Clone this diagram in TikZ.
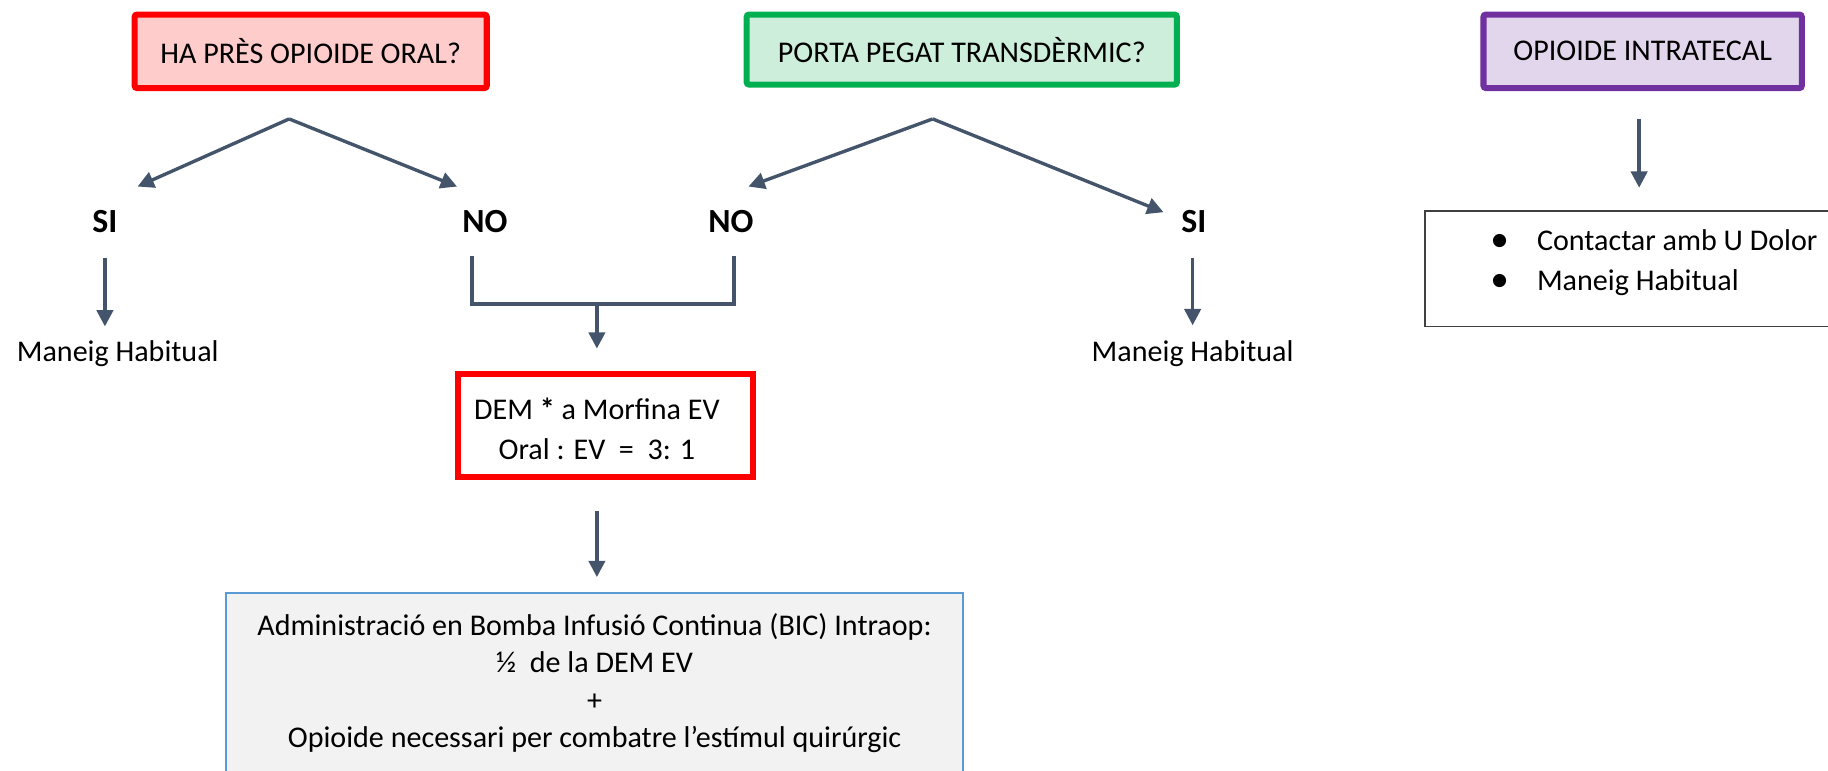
\documentclass[tikz,border=0pt]{standalone}
\usepackage{fontspec}
\setmainfont{Carlito}
\usetikzlibrary{arrows.meta}
\definecolor{qred}{HTML}{FF0000}
\definecolor{qredfill}{HTML}{FFCCCC}
\definecolor{qgreen}{HTML}{00B050}
\definecolor{qgreenfill}{HTML}{CCEEDA}
\definecolor{qpurple}{HTML}{7030A0}
\definecolor{qpurplefill}{HTML}{E2D6EC}
\definecolor{flow}{HTML}{44546A}
\definecolor{infofill}{HTML}{F2F2F2}
\definecolor{infoblue}{HTML}{5B9BD5}
\definecolor{listframe}{HTML}{404040}
\newcommand{\itemdot}{\makebox[20pt][l]{\raisebox{-0.5pt}{\fontsize{16}{16}\selectfont •}}}
\begin{document}
\begin{tikzpicture}[x=0.5pt,y=-0.5pt,
  font=\fontsize{12.9}{17}\selectfont,
  qbox/.style={line width=2.6pt, inner sep=0pt, rounded corners=1pt},
  lab/.style={font=\bfseries\fontsize{14.5}{16}\selectfont, inner sep=0pt},
  conn/.style={draw=flow, line width=1.45pt, -{Triangle[length=7pt,width=7pt]}},
  bar/.style={draw=flow, line width=1.7pt}]
\useasboundingbox (0,0) rectangle (1568,661);

% question boxes
\node[qbox, draw=qred, fill=qredfill, minimum width=151pt, minimum height=31.5pt] (oral) at (266.5,44) {HA PRÈS OPIOIDE ORAL?};
\node[qbox, draw=qgreen, fill=qgreenfill, minimum width=184.5pt, minimum height=30pt] (pegat) at (825,42.5) {PORTA PEGAT TRANSDÈRMIC?};
\node[qbox, draw=qpurple, fill=qpurplefill, minimum width=136.5pt, minimum height=31.5pt] (intra) at (1409,44) {OPIOIDE INTRATECAL};

% answer labels
\node[lab] (si1) at (90,190) {SI};
\node[lab] (no1) at (416,190) {NO};
\node[lab] (no2) at (627,190) {NO};
\node[lab] (si2) at (1024,190) {SI};

% branch points
\coordinate (v1) at (248,102);
\coordinate (v1l) at (118,160);
\coordinate (v1r) at (392,160);
\coordinate (v2) at (800,102);
\coordinate (v2l) at (642,160);
\coordinate (v2r) at (998,182);

\draw[conn] (v1) -- (v1l);
\draw[conn] (v1) -- (v1r);
\draw[conn] (v2) -- (v2l);
\draw[conn] (v2) -- (v2r);

% outcomes of SI
\node (hab1) at (101,303) {Maneig Habitual};
\node (hab2) at (1023,303) {Maneig Habitual};
\coordinate (s1a) at (90,221);
\coordinate (s1b) at (90,280);
\coordinate (s2a) at (1023,221);
\coordinate (s2b) at (1023,279);
\draw[conn] (s1a) -- (s1b);
\draw[conn] (s2a) -- (s2b);

% joining the two NO branches
\coordinate (n1) at (405,220);
\coordinate (n2) at (630,220);
\coordinate (j1) at (405,261);
\coordinate (j2) at (630,261);
\coordinate (jm) at (512,261);
\coordinate (jt) at (512,299);
\draw[bar] (n1) -- (j1) -- (j2) -- (n2);
\draw[conn] (jm) -- (jt);

% DEM conversion box
\node[qbox, draw=qred, fill=white, rounded corners=0pt, minimum width=126.5pt, minimum height=44.5pt] (dem) at (519,365) {};
\node[align=center, inner sep=0pt] (demtxt) at (512,368) {DEM \textbf{*} a Morfina EV\\Oral : EV \ = \ 3: 1};

\coordinate (d1) at (512,438);
\coordinate (d2) at (512,495);
\draw[conn] (d1) -- (d2);

% infusion box
\node[draw=infoblue, fill=infofill, line width=0.8pt, inner sep=0pt, minimum width=316pt, minimum height=80pt] (bic) at (510,589) {};
\node[align=center, inner sep=0pt, font=\fontsize{12.9}{16}\selectfont] (bictxt) at (510,586)
  {Administració en Bomba Infusió Continua (BIC) Intraop:\\½ \ de la DEM EV\\+\\Opioide necessari per combatre l’estímul quirúrgic};

% intrathecal branch
\coordinate (p1) at (1406,102);
\coordinate (p2) at (1406,161);
\draw[conn] (p1) -- (p2);
\node[draw=listframe, line width=0.8pt, inner sep=0pt, minimum width=180pt, minimum height=49.5pt] (ut) at (1402,230.5) {};
\node[align=left, anchor=west, inner sep=0pt] (uttxt) at (1278,225)
  {\itemdot Contactar amb U Dolor\\\itemdot Maneig Habitual};
\end{tikzpicture}
\end{document}
